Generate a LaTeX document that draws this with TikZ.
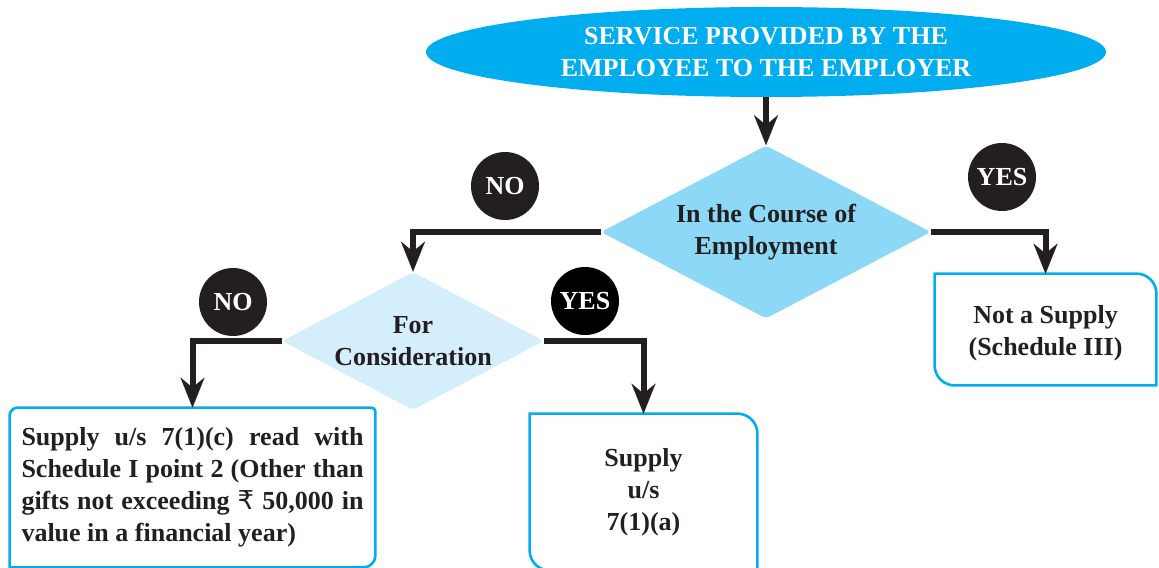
\documentclass[tikz,border=0pt]{standalone}
\usepackage{fontspec}
\setmainfont{Liberation Serif}
\newfontfamily\rupeefont{DejaVu Sans}
\usetikzlibrary{shapes.geometric,arrows.meta}

\definecolor{ink}{HTML}{231F20}
\definecolor{svcblue}{HTML}{00AEEF}
\definecolor{decone}{HTML}{8DD7F7}
\definecolor{dectwo}{HTML}{D5EEFB}

%border of a result box, one radius per corner (tl, tr, br, bl)
\newcommand{\roundbox}[5]{%
  \draw [boxline] ([yshift=-#2]#1.north west) arc [start angle=180, end angle=90, radius=#2]
    -- ([xshift=-#3]#1.north east) arc [start angle=90, end angle=0, radius=#3]
    -- ([yshift=#4]#1.south east) arc [start angle=0, end angle=-90, radius=#4]
    -- ([xshift=#5]#1.south west) arc [start angle=270, end angle=180, radius=#5]
    -- cycle;}

\begin{document}
\begin{tikzpicture}[x=0.5pt, y=-0.5pt,
    font=\fontsize{13}{16}\selectfont\bfseries,
    svc/.style={ellipse, fill=svcblue, text=white, align=center, inner sep=0pt,
      minimum width=340pt, minimum height=45pt},
    decide/.style={diamond, text=ink, align=center, inner sep=0pt, shape aspect=1.9,
      rounded corners=2pt},
    tag/.style={circle, fill=ink, text=white, inner sep=0pt, minimum size=34pt},
    result/.style={text=ink, inner sep=0pt},
    boxline/.style={draw=svcblue, line width=1.3pt},
    flow/.style={draw=ink, line width=3pt,
      -{Stealth[length=15pt, width=12pt, inset=5pt, line width=0.01pt]}}]

  \useasboundingbox (0,0) rectangle (1159,567);

  %Service
  \node [svc] (service) at (766,52) {SERVICE PROVIDED BY THE\\EMPLOYEE TO THE EMPLOYER};

  %Decisions
  \node [decide, fill=decone, minimum width=165pt, minimum height=86.5pt] (course) at (766,232)
    {In the Course of\\Employment};
  \node [decide, fill=dectwo, minimum width=131pt, minimum height=69pt] (consid) at (413,341)
    {For\\Consideration};

  %Yes / No tags
  \node [tag] (courseno)  at (505,186)  {NO};
  \node [tag] (courseyes) at (1002,177) {YES};
  \node [tag] (considno)  at (233,302)  {NO};
  \node [tag, fill=black] (consyes) at (585,301) {YES};

  %Results
  \node [result, minimum width=182.5pt, minimum height=79.5pt] (giftbox) at (192.5,487.5) {};
  \node [result, text width=171pt, align=justify] at (giftbox)
    {Supply u/s 7(1)(c) read with\linebreak Schedule I point 2 (Other than\linebreak
     gifts not exceeding {\rupeefont\mdseries ₹} 50,000 in\linebreak value in a financial year)};
  \roundbox{giftbox}{4pt}{2pt}{6pt}{0.01pt}

  \node [result, align=center, minimum width=113.5pt, minimum height=78pt] (supplybox) at (643.5,492)
    {Supply\\u/s\\7(1)(a)};
  \roundbox{supplybox}{0.01pt}{10pt}{0.01pt}{10pt}

  \node [result, minimum width=110.5pt, minimum height=55.5pt] (notbox) at (1045.5,329.5) {};
  \node [result, align=center] at ([yshift=-2pt]notbox) {Not a Supply\\(Schedule III)};
  \roundbox{notbox}{0.01pt}{10pt}{0.01pt}{10pt}

  %Connectors
  \draw [flow] (service.south) -- (course.north);
  \draw [flow] (course.west) -| (consid.north);
  \draw [flow] (course.east) -| (notbox.north);
  \draw [flow] (consid.west) -| (giftbox.north);
  \draw [flow] (consid.east) -| (supplybox.north);

\end{tikzpicture}
\end{document}
